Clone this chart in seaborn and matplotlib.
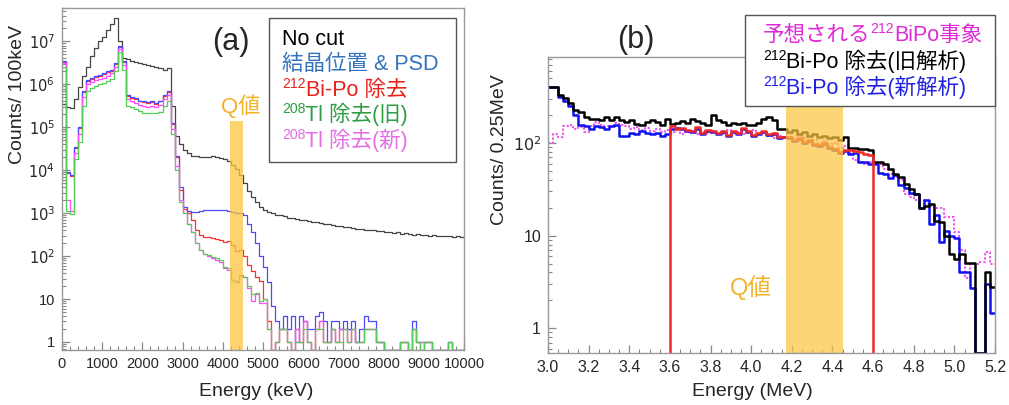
import numpy as np
import pandas as pd
import matplotlib
matplotlib.use("Agg")
import matplotlib.pyplot as plt
import seaborn as sns
from matplotlib.ticker import FixedLocator, FuncFormatter, NullFormatter, MultipleLocator
from matplotlib.patches import Rectangle
from matplotlib.text import Annotation

sns.set_theme(style="white")
plt.rcParams['font.family'] = ['Liberation Sans', 'Noto Sans CJK JP']

W, H = 1009, 405

# ---------------- data: panel (a), 100 keV bins 0-10000 keV ----------------
edges_a = np.arange(0, 10001, 100)
nocut_a = [3.4e5, 3.0e5, 2.8e5, 4.5e5, 8.5e5, 1.6e6, 2.6e6, 4.5e6, 7.1e6, 1.05e7,
           1.3e7, 1.8e7, 2.5e7, 3.5e7, 1.0e7, 4.2e6, 3.8e6, 3.5e6, 3.3e6, 3.2e6,
           3.0e6, 2.8e6, 2.7e6, 2.6e6, 2.4e6, 2.2e6, 2.4e6, 3.2e5, 6.3e4, 4.0e4,
           3.0e4, 2.5e4, 2.2e4, 2.1e4, 2.0e4, 2.0e4, 2.0e4, 2.1e4, 2.0e4, 1.95e4,
           1.8e4, 1.6e4, 1.3e4, 1.05e4, 7600, 5000, 3300, 2400, 1800, 1400,
           1200, 1070, 1000, 930, 890, 850, 790, 760, 740, 710,
           680, 660, 620, 630, 575, 560, 550, 525, 510, 500,
           480, 470, 455, 435, 425, 415, 405, 400, 380, 380,
           365, 370, 345, 355, 330, 340, 325, 315, 325, 310,
           315, 300, 310, 295, 300, 290, 295, 280, 290, 280]
psd_a = [3.5e6, 8900, 7900, 3.5e4, 1.0e5, 7.1e5, 1.26e6, 1.4e6, 1.6e6, 1.66e6,
         1.8e6, 2.0e6, 2.2e6, 3.2e6, 7.9e6, 3.5e6, 5.6e5, 5.2e5, 4.8e5, 4.2e5,
         4.0e5, 3.8e5, 4.0e5, 3.7e5, 4.2e5, 5.6e5, 7.1e5, 1.26e5, 2.2e4, 4000,
         1400, 1120, 1050, 1070, 1120, 1170, 1200, 1200, 1170, 1200,
         1170, 1120, 1070, 1000, 1000, 890, 560, 355, 200, 100,
         56, 25] + \
        [7, 3, 2, 4, 2, 4, 1, 4, 3, 2, 2, 4, 5, 3, 1, 3, 3, 2, 3, 2, 3, 1, 2, 4,
         3, 3, 1, 1, 0, 0, 0, 0, 1, 1, 0, 3, 1, 0, 1, 1, 0, 0, 0, 0, 1, 0, 0, 0]
tl_new_a = [3.2e6, 2000, 1100, 2.5e4, 7.1e4, 5.0e5, 1.0e6, 1.12e6, 1.26e6, 1.3e6,
            1.4e6, 1.6e6, 1.8e6, 2.5e6, 6.6e6, 2.8e6, 4.5e5, 4.2e5, 3.7e5, 3.3e5,
            3.2e5, 3.0e5, 3.2e5, 3.0e5, 3.3e5, 4.5e5, 5.6e5, 8.9e4, 1.26e4, 2000,
            1000, 560, 355, 200, 141, 112, 100, 89, 83, 71,
            52, 48, 28, 25, 35, 32, 18, 9, 13, 8,
            8, 2] + \
           [0, 1, 2, 2, 1, 0, 2, 1, 3, 1, 0, 2, 3, 1, 1, 2, 1, 2, 2, 1, 2, 1, 1, 2,
            2, 2, 1, 1, 0, 0, 0, 0, 1, 1, 0, 2, 1, 1, 1, 1, 0, 0, 0, 0, 1, 0, 0, 0]
bipo_a = [3.3e6, 8500, 7500, 3.3e4, 9.5e4, 6.8e5, 1.2e6, 1.33e6, 1.52e6, 1.58e6,
          1.7e6, 1.9e6, 2.1e6, 3.0e6, 7.5e6, 3.3e6, 5.3e5, 4.9e5, 4.6e5, 4.0e5,
          3.8e5, 3.6e5, 3.8e5, 3.5e5, 4.0e5, 5.3e5, 6.7e5, 1.2e5, 2.0e4, 3500,
          1260, 1000, 710, 400, 316, 282, 282, 263, 251, 240,
          214, 224, 178, 132, 141, 100, 63, 45, 32, 26,
          10, 3] + \
         [0, 1, 2, 2, 1, 0, 2, 1, 3, 1, 0, 2, 3, 1, 1, 2, 1, 2, 2, 1, 2, 1, 1, 2,
          2, 2, 1, 1, 0, 0, 0, 0, 1, 1, 0, 2, 1, 1, 1, 1, 0, 0, 0, 0, 1, 0, 0, 0]
tl_old_a = [2.5e6, 1100, 950, 1.8e4, 4.5e4, 3.2e5, 7.1e5, 8.3e5, 9.3e5, 1.0e6,
            1.07e6, 1.2e6, 1.35e6, 2.0e6, 5.6e6, 2.2e6, 3.2e5, 3.0e5, 2.6e5, 2.4e5,
            2.2e5, 2.1e5, 2.2e5, 2.1e5, 2.3e5, 3.2e5, 4.0e5, 7.1e4, 1.0e4, 1800,
            1000, 560, 355, 200, 141, 112, 105, 93, 89, 79,
            56, 52, 28, 26, 37, 32, 20, 13, 14, 9,
            10, 2] + \
           [0, 1, 2, 2, 1, 0, 1, 1, 2, 1, 0, 2, 2, 1, 1, 2, 1, 1, 2, 1, 2, 1, 1, 2,
            2, 2, 1, 1, 0, 0, 0, 0, 1, 1, 0, 2, 1, 0, 1, 1, 0, 0, 0, 0, 1, 0, 0, 0]
qband_a = (4170, 4500)
qband_a_top = 1.4e5
yticks_a = [1, 10, 1e2, 1e3, 1e4, 1e5, 1e6, 1e7]

# ---------------- data: panel (b), 0.025 MeV bins 3.0-5.2 MeV ----------------
edges_b = np.linspace(3.0, 5.2, 89)
expected_b = [100, 126, 117, 151, 158, 141, 148, 132, 151, 170,
              158, 151, 148, 166, 158, 151, 141, 148, 138, 145,
              135, 141, 132, 138, 132, 141, 126, 132, 135, 126,
              132, 129, 135, 132, 126, 138, 126, 132, 126, 135,
              138, 126, 132, 120, 112, 120, 112, 126, 107, 120,
              112, 115, 107, 100, 105, 95, 100, 89, 93, 79,
              66, 63, 60, 63, 59, 60, 52, 46, 43, 40,
              28, 26, 24, 24, 22, 21, 20, 20, 16, 16,
              11, 7, 3.5, 5, 5, 5.2, 6.6, 5]
old_b = [407, 407, 331, 309, 269, 229, 214, 190, 182, 182,
         178, 190, 178, 192, 178, 170, 176, 162, 158, 170,
         176, 170, 158, 182, 162, 166, 174, 166, 182, 174,
         166, 158, 200, 178, 170, 158, 166, 162, 166, 155,
         158, 166, 182, 190, 178, 141, 141, 132, 138, 126,
         132, 120, 126, 115, 120, 112, 115, 107, 117, 89,
         89, 87, 87, 85, 63, 63, 60, 52, 46, 43,
         36, 32, 28, 20, 21, 22, 14.5, 14, 10, 6.3,
         5.6, 6.3, 5.1, 5.1, 0, 0, 4, 2.8]
new_b = [407, 407, 316, 282, 251, 200, 158, 151, 141, 151,
         148, 141, 151, 158, 120, 120, 130, 126, 135, 129,
         126, 129, 120, 126, 141, 145, 141, 135, 132, 141,
         126, 135, 132, 126, 132, 120, 132, 126, 141, 132,
         120, 126, 132, 123, 126, 112, 115, 112, 105, 110,
         100, 105, 95, 93, 98, 89, 85, 79, 83, 76,
         79, 63, 63, 60, 60, 48, 46, 42, 45, 35.5,
         33, 29, 28, 20, 24, 13.5, 16.6, 8.5, 11.2, 10,
         9.5, 4, 4, 2.7, 0, 0, 3, 1.45]
window_b = [0] * 24 + \
           [151, 141, 145, 138, 135, 148, 129, 138, 135, 129,
            135, 123, 135, 129, 145, 135, 123, 129, 135, 126,
            129, 115, 117, 115, 107, 112, 102, 107, 98, 95,
            100, 91, 87, 81, 85, 85, 82, 80, 76, 74] + [0] * 24
qband_b = (4.17, 4.45)
yticks_b = [1, 10, 1e2]

ylim_a = (0.65, 6e7)
ylim_b = (0.54, 850)


def step_hist(ax, edges, counts, floor, **kw):
    counts = np.asarray(counts, dtype=float)
    centers = 0.5 * (edges[:-1] + edges[1:])
    df = pd.DataFrame({"E": centers, "w": np.where(counts > 0, counts, floor)})
    sns.histplot(data=df, x="E", weights="w", bins=len(centers),
                 binrange=(float(edges[0]), float(edges[-1])),
                 element="step", fill=False, ax=ax, **kw)


def fx(x):
    return x / W


def fy(y):
    return 1 - y / H


def log_fmt(v, pos):
    if v <= 0:
        return ""
    n = int(round(np.log10(v)))
    if n == 0:
        return "1"
    if n == 1:
        return "10"
    return r"$10^{%d}$" % n


def minor_log(lo, hi):
    vals = []
    for d in range(int(np.floor(np.log10(lo))), int(np.ceil(np.log10(hi))) + 1):
        for s in range(2, 10):
            v = s * 10.0 ** d
            if lo <= v <= hi:
                vals.append(v)
    return vals


fig = plt.figure(figsize=(W / 100, H / 100), dpi=100)
ax_a = fig.add_axes([fx(62), fy(350), fx(464) - fx(62), (350 - 8) / H])
ax_b = fig.add_axes([fx(548), fy(353), fx(995) - fx(548), (353 - 57) / H])

# ---------------- panel (a) ----------------
step_hist(ax_a, edges_a, nocut_a, ylim_a[0], color="#444444", linewidth=0.9)
step_hist(ax_a, edges_a, bipo_a, ylim_a[0], color="#ff3030", linewidth=0.9)
step_hist(ax_a, edges_a, psd_a, ylim_a[0], color="#4a4aff", linewidth=0.9)
step_hist(ax_a, edges_a, tl_new_a, ylim_a[0], color="#ff4cff", linewidth=0.9)
step_hist(ax_a, edges_a, tl_old_a, ylim_a[0], color="#58cc58", linewidth=0.9)
ax_a.fill_between(list(qband_a), ylim_a[0], qband_a_top, color="#fbc540",
                  alpha=0.75, linewidth=0, zorder=5)
ax_a.set_yscale("log")
ax_a.set_xlim(0, 10000)
ax_a.set_ylim(*ylim_a)
ax_a.xaxis.set_major_locator(MultipleLocator(1000))
ax_a.xaxis.set_minor_locator(MultipleLocator(200))
ax_a.yaxis.set_major_locator(FixedLocator(yticks_a))
ax_a.yaxis.set_minor_locator(FixedLocator(minor_log(*ylim_a)))
ax_a.yaxis.set_major_formatter(FuncFormatter(log_fmt))
ax_a.yaxis.set_minor_formatter(NullFormatter())

# ---------------- panel (b) ----------------
step_hist(ax_b, edges_b, expected_b, ylim_b[0], color="#f050f0", linewidth=1.5,
          linestyle=(0, (1, 1)))
step_hist(ax_b, edges_b, new_b, ylim_b[0], color="#1010f0", linewidth=1.8)
step_hist(ax_b, edges_b, old_b, ylim_b[0], color="#000000", linewidth=1.8)
step_hist(ax_b, edges_b, window_b, ylim_b[0] * 0.5, color="#f02828", linewidth=1.8)
ax_b.fill_between(list(qband_b), ylim_b[0] * 0.5, ylim_b[1] * 2, color="#fbc540",
                  alpha=0.72, linewidth=0, zorder=5)
ax_b.set_yscale("log")
ax_b.set_xlim(3.0, 5.2)
ax_b.set_ylim(*ylim_b)
ax_b.xaxis.set_major_locator(MultipleLocator(0.2))
ax_b.xaxis.set_minor_locator(MultipleLocator(0.05))
ax_b.xaxis.set_major_formatter(FuncFormatter(lambda v, p: "%.1f" % v))
ax_b.yaxis.set_major_locator(FixedLocator(yticks_b))
ax_b.yaxis.set_minor_locator(FixedLocator(minor_log(*ylim_b)))
ax_b.yaxis.set_major_formatter(FuncFormatter(log_fmt))
ax_b.yaxis.set_minor_formatter(NullFormatter())

for ax, lsize in ((ax_a, 10.5), (ax_b, 11.5)):
    ax.set_xlabel("")
    ax.set_ylabel("")
    for sp in ax.spines.values():
        sp.set_color("#999999")
        sp.set_linewidth(1.0)
        sp.set_zorder(6)
    ax.tick_params(axis="both", which="major", direction="in", length=6,
                   width=0.9, color="#888888", labelsize=lsize, pad=5,
                   bottom=True, left=True, top=False, right=False)
    ax.tick_params(axis="both", which="minor", direction="in", length=3,
                   width=0.8, color="#888888", bottom=True, left=True,
                   top=False, right=False)
    ax.grid(False)

# ---------------- texts ----------------
fig.text(fx(18), fy(95), "Counts/ 100keV", rotation=90, fontsize=14,
         ha="center", va="center")
fig.text(fx(256), fy(391), "Energy (keV)", fontsize=14, ha="center", va="center")
fig.text(fx(499), fy(150), "Counts/ 0.25MeV", rotation=90, fontsize=14,
         ha="center", va="center")
fig.text(fx(752), fy(392), "Energy (MeV)", fontsize=14, ha="center", va="center")

fig.text(fx(231), fy(42), "(a)", fontsize=22, ha="center", va="center")
fig.text(fx(636), fy(40), "(b)", fontsize=22, ha="center", va="center")
fig.text(fx(241), fy(106), "Q値", fontsize=16, color="#f4b12a",
         ha="center", va="center", zorder=7)
fig.text(fx(751), fy(288), "Q値", fontsize=17, color="#f4b12a",
         ha="center", va="center", zorder=7)


def rich_line(x, ybase, parts, size, color):
    prev = None
    for txt, sup in parts:
        fs = size * 0.65 if sup else size
        yb = ybase - (0.35 * size * 100 / 72 if sup else 0)
        if prev is None:
            t = fig.text(fx(x), fy(yb), txt, fontsize=fs, color=color,
                         ha="left", va="baseline", zorder=10)
        else:
            t = Annotation(txt, xy=(1, fy(yb)), xycoords=(prev, "figure fraction"),
                           fontsize=fs, color=color, ha="left", va="baseline",
                           zorder=10)
            fig.add_artist(t)
        prev = t


fig.add_artist(Rectangle((fx(269), fy(162)), fx(456) - fx(269), (162 - 18) / H,
                         transform=fig.transFigure, facecolor="white",
                         edgecolor="#555555", linewidth=1.0, zorder=9))
leg_a = [
    ([("No cut", False)], "#000000"),
    ([("結晶位置 & PSD", False)], "#3473bd"),
    ([("212", True), ("Bi-Po 除去", False)], "#e8231c"),
    ([("208", True), ("Tl 除去(旧)", False)], "#2e9e45"),
    ([("208", True), ("Tl 除去(新)", False)], "#e46ee4"),
]
for (parts, col), yb in zip(leg_a, [45, 70, 96, 121, 147]):
    rich_line(282, yb, parts, 15.5, col)

fig.add_artist(Rectangle((fx(745), fy(106)), fx(995) - fx(745), (106 - 15) / H,
                         transform=fig.transFigure, facecolor="white",
                         edgecolor="#555555", linewidth=1.0, zorder=9))
leg_b = [
    ([("予想される", False), ("212", True), ("BiPo事象", False)], "#e02ad8"),
    ([("212", True), ("Bi-Po 除去(旧解析)", False)], "#000000"),
    ([("212", True), ("Bi-Po 除去(新解析)", False)], "#2020e0"),
]
for (parts, col), yb in zip(leg_b, [41, 68, 94]):
    rich_line(763, yb, parts, 15.5, col)

fig.savefig("out.png", dpi=100)
